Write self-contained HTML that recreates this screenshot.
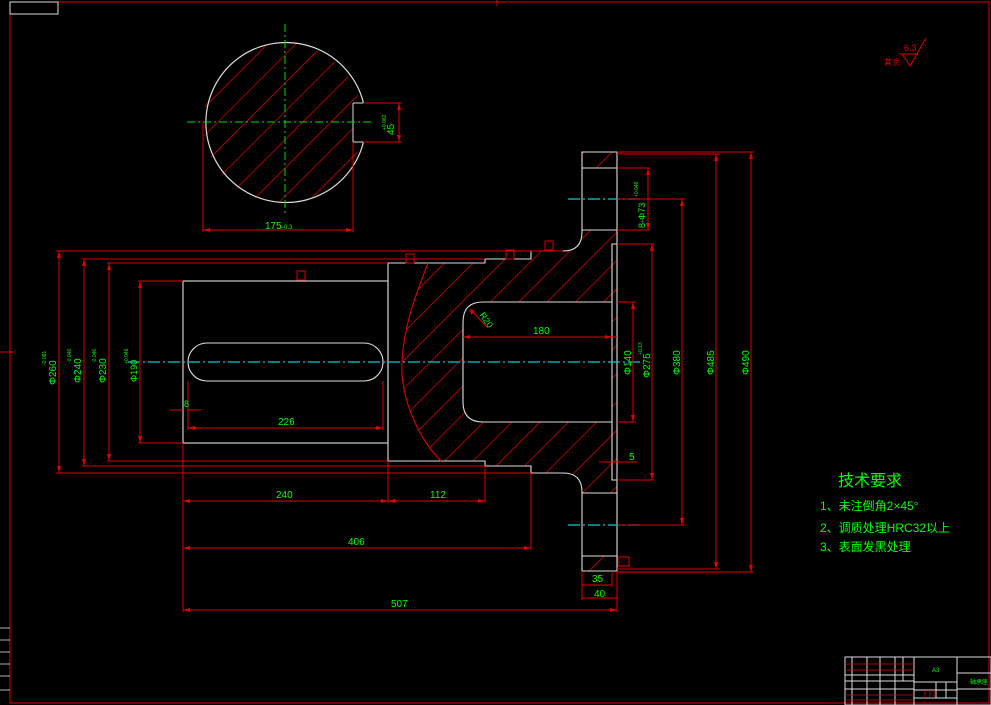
<!DOCTYPE html>
<html><head><meta charset="utf-8"><style>
html,body{margin:0;padding:0;background:#000;}
svg{display:block}
text{font-family:"Liberation Sans","Noto Sans CJK SC",sans-serif;fill:#00ff00}
</style></head><body>
<svg width="991" height="705" viewBox="0 0 991 705" xmlns="http://www.w3.org/2000/svg">
<defs>
<pattern id="h" patternUnits="userSpaceOnUse" width="20" height="20" patternTransform="rotate(45)">
<line x1="0" y1="0" x2="0" y2="20" stroke="#ff0000" stroke-width="1.3"/>
</pattern>
<clipPath id="cc"><circle cx="283" cy="123" r="80"/></clipPath>
</defs>
<rect width="991" height="705" fill="#000"/>
<g stroke="#e00000" fill="none" stroke-width="1">
<line x1="10" y1="2" x2="989" y2="2"/><line x1="10" y1="2" x2="10" y2="703"/>
<line x1="989" y1="2" x2="989" y2="703"/><line x1="10" y1="703" x2="989" y2="703"/>
<line x1="0" y1="352" x2="14" y2="352"/><line x1="497" y1="0" x2="497" y2="6"/>
</g>
<rect x="10" y="2" width="48" height="12" fill="none" stroke="#ddd"/>
<g stroke="#ddd" stroke-width="0.8">
<line x1="0" y1="628" x2="10" y2="628"/><line x1="0" y1="640" x2="10" y2="640"/><line x1="0" y1="652" x2="10" y2="652"/><line x1="0" y1="664" x2="10" y2="664"/><line x1="0" y1="676" x2="10" y2="676"/><line x1="0" y1="690" x2="10" y2="690"/>
</g>

<g>
<rect x="200" y="40" width="170" height="170" fill="url(#h)" clip-path="url(#cc)"/>
<rect x="353" y="103" width="15" height="39" fill="#000"/>
<path d="M353,103 L353,142" stroke="#ddd" fill="none"/>
<path d="M363.5,103 A80,80 0 1 0 363.5,142" stroke="#ddd" fill="none" stroke-width="1.2"/>
<path d="M353,103 L363,103 M353,142 L363,142" stroke="#ddd"/>
<g stroke="#e00000" fill="none">
<line x1="363" y1="103" x2="402" y2="103"/><line x1="363" y1="142" x2="402" y2="142"/>
<line x1="399" y1="103" x2="399" y2="142"/>
<line x1="203" y1="123" x2="203" y2="232"/><line x1="353" y1="142" x2="353" y2="232"/>
<line x1="203" y1="230" x2="353" y2="230"/>
</g>
<g stroke="#00dd00" stroke-dasharray="8,3,2,3">
<line x1="187" y1="122" x2="372" y2="122"/><line x1="285" y1="24" x2="285" y2="215"/>
</g>
<text x="265" y="229" font-size="10">175</text><text x="282" y="229" font-size="6">-0.3</text>
<text transform="translate(394,135) rotate(-90)" font-size="10">45</text>
<text transform="translate(386,130) rotate(-90)" font-size="5">+0.062</text>
</g>

<path d="M428,263 L485,263 L485,259 L531,259 L531,251 L563,251 Q582,251 582,232 L582,152 L617,152 L617,571 L582,571 L582,492 Q582,473 563,473 L531,473 L531,466 L485,466 L485,461 L441,461 C420,440 400,400 402,362 C404,320 420,285 428,263 Z" fill="url(#h)"/>
<rect x="582" y="168" width="35" height="62" fill="#000"/>
<rect x="582" y="493" width="35" height="63" fill="#000"/>
<path d="M483,302 L612,302 L612,422 L483,422 Q463,422 463,402 L463,322 Q463,302 483,302 Z" fill="#000"/>

<g stroke="#ddd" fill="none" stroke-width="1.1">
<rect x="183" y="281" width="205" height="162"/>
<rect x="188" y="343" width="195" height="38" rx="19"/>
<path d="M388,263 L485,263 L485,259 L531,259 L531,251 L563,251 Q582,251 582,232 L582,152 L617,152 L617,571 L582,571 L582,492 Q582,473 563,473 L531,473 L531,466 L485,466 L485,461 L388,461 L388,263"/>
<path d="M617,244 L612,244 L612,480 L617,480"/>
<path d="M483,302 L612,302 M612,422 L483,422 Q463,422 463,402 L463,322 Q463,302 483,302"/>
<path d="M582,168 L617,168 M582,230 L617,230 M582,493 L617,493 M582,556 L617,556"/>
</g>
<path d="M441,461 C420,440 400,400 402,362 C404,320 420,285 428,263" stroke="#e00000" fill="none" stroke-width="1.1"/>
<g stroke="#00cccc" stroke-dasharray="12,3,2,3" stroke-width="1.2">
<line x1="128" y1="362" x2="640" y2="362"/>
<line x1="568" y1="199" x2="640" y2="199"/>
<line x1="568" y1="525" x2="640" y2="525"/>
</g>

<g stroke="#e00000" fill="none" stroke-width="1">
<line x1="56" y1="251" x2="563" y2="251"/><line x1="56" y1="473" x2="531" y2="473"/>
<line x1="82" y1="259" x2="485" y2="259"/><line x1="82" y1="466" x2="485" y2="466"/>
<line x1="107" y1="263" x2="388" y2="263"/><line x1="107" y1="461" x2="388" y2="461"/>
<line x1="138" y1="281" x2="183" y2="281"/><line x1="138" y1="443" x2="183" y2="443"/>
<line x1="59" y1="251" x2="59" y2="473"/><line x1="84" y1="259" x2="84" y2="466"/>
<line x1="109" y1="263" x2="109" y2="461"/><line x1="140" y1="281" x2="140" y2="443"/>
<line x1="183" y1="443" x2="183" y2="612"/><line x1="388" y1="461" x2="388" y2="503"/>
<line x1="485" y1="466" x2="485" y2="503"/><line x1="531" y1="473" x2="531" y2="550"/>
<line x1="617" y1="571" x2="617" y2="612"/><line x1="582" y1="571" x2="582" y2="600"/>
<line x1="188" y1="381" x2="188" y2="430"/><line x1="383" y1="381" x2="383" y2="430"/>
<line x1="188" y1="428" x2="383" y2="428"/>
<line x1="170" y1="410" x2="183" y2="410"/><line x1="188" y1="410" x2="201" y2="410"/>
<line x1="183" y1="501" x2="485" y2="501"/>
<line x1="183" y1="548" x2="531" y2="548"/>
<line x1="183" y1="610" x2="617" y2="610"/>
<line x1="582" y1="585" x2="612" y2="585"/><line x1="612" y1="571" x2="612" y2="587"/>
<line x1="582" y1="598" x2="617" y2="598"/>
<line x1="463" y1="337" x2="617" y2="337"/>
<line x1="470" y1="309" x2="488" y2="328"/>
<line x1="617" y1="302" x2="636" y2="302"/><line x1="617" y1="422" x2="636" y2="422"/>
<line x1="633" y1="302" x2="633" y2="422"/>
<line x1="617" y1="244" x2="654" y2="244"/><line x1="617" y1="480" x2="654" y2="480"/>
<line x1="652" y1="244" x2="652" y2="480"/>
<line x1="617" y1="168" x2="650" y2="168"/><line x1="617" y1="230" x2="650" y2="230"/>
<line x1="648" y1="168" x2="648" y2="230"/>
<line x1="617" y1="199" x2="685" y2="199"/><line x1="617" y1="525" x2="685" y2="525"/>
<line x1="682" y1="199" x2="682" y2="525"/>
<line x1="617" y1="154" x2="720" y2="154"/><line x1="617" y1="569" x2="720" y2="569"/>
<line x1="716" y1="154" x2="716" y2="569"/>
<line x1="617" y1="152" x2="754" y2="152"/><line x1="617" y1="572" x2="754" y2="572"/>
<line x1="751" y1="152" x2="751" y2="572"/>
<line x1="599" y1="462" x2="637" y2="462"/>
<rect x="297" y="271" width="8" height="9"/><rect x="406" y="254" width="8" height="9"/>
<rect x="506" y="250" width="8" height="9"/><rect x="545" y="241" width="8" height="9"/>
<rect x="618" y="557" width="11" height="9"/>
</g>
<g fill="#e00000">
<path d="M59,251 l-2,7 h4z"/><path d="M59,473 l-2,-7 h4z"/>
<path d="M84,259 l-2,7 h4z"/><path d="M84,466 l-2,-7 h4z"/>
<path d="M109,263 l-2,7 h4z"/><path d="M109,461 l-2,-7 h4z"/>
<path d="M140,281 l-2,7 h4z"/><path d="M140,443 l-2,-7 h4z"/>
<path d="M188,428 l7,-2 v4z"/><path d="M383,428 l-7,-2 v4z"/>
<path d="M183,501 l7,-2 v4z"/><path d="M388,501 l-7,-2 v4z"/><path d="M388,501 l7,-2 v4z"/><path d="M485,501 l-7,-2 v4z"/>
<path d="M183,548 l7,-2 v4z"/><path d="M531,548 l-7,-2 v4z"/>
<path d="M183,610 l7,-2 v4z"/><path d="M617,610 l-7,-2 v4z"/>
<path d="M463,337 l7,-2 v4z"/><path d="M612,337 l-7,-2 v4z"/>
<path d="M633,302 l-2,7 h4z"/><path d="M633,422 l-2,-7 h4z"/>
<path d="M652,244 l-2,7 h4z"/><path d="M652,480 l-2,-7 h4z"/>
<path d="M648,168 l-2,7 h4z"/><path d="M648,230 l-2,-7 h4z"/>
<path d="M682,199 l-2,7 h4z"/><path d="M682,525 l-2,-7 h4z"/>
<path d="M716,154 l-2,7 h4z"/><path d="M716,569 l-2,-7 h4z"/>
<path d="M751,152 l-2,7 h4z"/><path d="M751,572 l-2,-7 h4z"/>
<path d="M203,230 l7,-2 v4z"/><path d="M353,230 l-7,-2 v4z"/>
<path d="M399,103 l-2,7 h4z"/><path d="M399,142 l-2,-7 h4z"/>
<path d="M470,309 l1,6 l4,-4z"/>
</g>

<g font-size="10">
<text transform="translate(56,385) rotate(-90)">Φ260</text><text transform="translate(46,365) rotate(-90)" font-size="5">-0.081</text>
<text transform="translate(81,383) rotate(-90)">Φ240</text><text transform="translate(71,363) rotate(-90)" font-size="5">-0.046</text>
<text transform="translate(106,383) rotate(-90)">Φ230</text><text transform="translate(96,363) rotate(-90)" font-size="5">-0.046</text>
<text transform="translate(137,382) rotate(-90)" font-size="9">Φ190</text><text transform="translate(128,364) rotate(-90)" font-size="5">+0.046</text>
<text x="184" y="407" font-size="9">8</text>
<text x="278" y="425">226</text>
<text x="276" y="498">240</text>
<text x="430" y="498">112</text>
<text x="348" y="545">406</text>
<text x="391" y="607">507</text>
<text x="592" y="582">35</text>
<text x="594" y="597">40</text>
<text x="533" y="334">180</text>
<text transform="translate(479,315) rotate(55)" font-size="9">R20</text>
<text transform="translate(631,375) rotate(-90)">Φ140</text>
<text transform="translate(650,378) rotate(-90)">Φ275</text>
<text transform="translate(642,355) rotate(-90)" font-size="5">+0.13</text>
<text transform="translate(680,375) rotate(-90)">Φ380</text>
<text transform="translate(714,375) rotate(-90)">Φ485</text>
<text transform="translate(749,375) rotate(-90)">Φ490</text>
<text transform="translate(645,228) rotate(-90)" font-size="9">8-Φ73</text>
<text transform="translate(638,197) rotate(-90)" font-size="5">+0.046</text>
<text x="629" y="460">5</text>
</g>

<g stroke="#e00000" fill="none">
<path d="M902,54 L910,66 L926,38"/><line x1="899" y1="54" x2="918" y2="54"/>
</g>
<text x="904" y="51" font-size="9" style="fill:#e00000">6.3</text>
<text x="884" y="65" font-size="8" style="fill:#e00000">其余</text>

<text x="838" y="486" font-size="16">技术要求</text>
<text x="820" y="510" font-size="12">1、未注倒角2×45°</text>
<text x="820" y="532" font-size="12">2、调质处理HRC32以上</text>
<text x="820" y="551" font-size="12">3、表面发黑处理</text>

<g stroke="#ddd" fill="none" stroke-width="1">
<rect x="845" y="657" width="146" height="48"/>
<line x1="914" y1="657" x2="914" y2="705"/><line x1="957" y1="657" x2="957" y2="705"/>
<line x1="957" y1="673" x2="991" y2="673"/><line x1="957" y1="689" x2="991" y2="689"/>
<line x1="914" y1="682" x2="957" y2="682"/><line x1="914" y1="690" x2="957" y2="690"/><line x1="914" y1="698" x2="957" y2="698"/>
<line x1="845" y1="675" x2="914" y2="675"/><line x1="845" y1="681" x2="914" y2="681"/><line x1="845" y1="689" x2="914" y2="689"/>
<line x1="852" y1="657" x2="852" y2="705"/><line x1="867" y1="657" x2="867" y2="705"/><line x1="880" y1="657" x2="880" y2="705"/><line x1="895" y1="657" x2="895" y2="705"/><line x1="903" y1="657" x2="903" y2="681"/>
<line x1="936" y1="682" x2="936" y2="698"/><line x1="946" y1="682" x2="946" y2="698"/>
</g>
<g stroke="#e00000" stroke-width="0.8">
<line x1="845" y1="664" x2="914" y2="664"/><line x1="845" y1="670" x2="914" y2="670"/>
<line x1="845" y1="695" x2="914" y2="695"/><line x1="845" y1="700" x2="914" y2="700"/>
<line x1="925" y1="690" x2="925" y2="698"/><line x1="930" y1="690" x2="930" y2="698"/><line x1="934" y1="690" x2="934" y2="698"/>
</g>
<text x="932" y="672" font-size="6">A3</text>
<text x="970" y="684" font-size="6">轴承座</text>
</svg>
</body></html>
